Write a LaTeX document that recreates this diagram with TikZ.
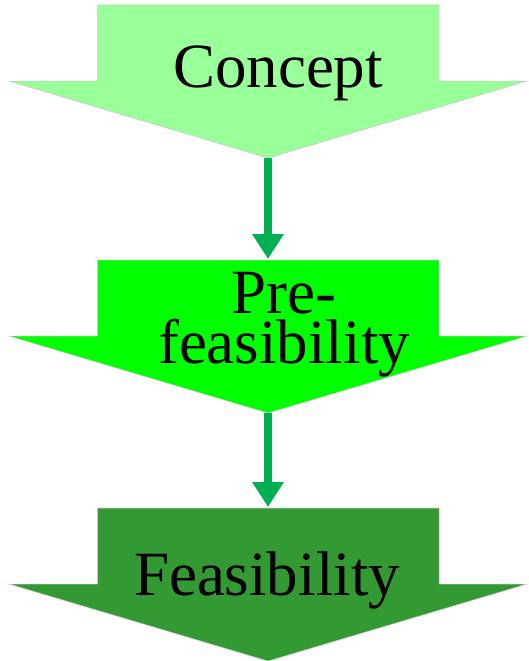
\documentclass[tikz,border=0pt]{standalone}
\usepackage{fontspec}
\setmainfont{Liberation Serif}
\usetikzlibrary{arrows.meta}

\definecolor{conceptgreen}{HTML}{99FF99}
\definecolor{prefeasgreen}{HTML}{00FF00}
\definecolor{feasgreen}{HTML}{339933}
\definecolor{linkgreen}{HTML}{00B050}

\tikzset{
	stagebox/.style={draw=gray!45, line width=0.5pt},
	stagetext/.style={font=\fontsize{63}{50}\selectfont, anchor=base, align=center, inner sep=0pt},
	link/.style={draw=linkgreen, line width=8pt, -{Triangle[width=30pt,length=25pt]}}
}

\begin{document}
\begin{tikzpicture}[x=1pt,y=-1pt]
	\useasboundingbox (0,0) rectangle (528,661);
	% stages
	\filldraw[stagebox, fill=conceptgreen] (97.5,5) -- (439,5) -- (439,81) -- (527,81) -- (268,158) -- (9,81) -- (97.5,81) -- cycle;
	\filldraw[stagebox, fill=prefeasgreen] (97.5,260) -- (439,260) -- (439,336) -- (527,336) -- (268,413) -- (9,336) -- (97.5,336) -- cycle;
	\filldraw[stagebox, fill=feasgreen] (97.5,508) -- (439,508) -- (439,584) -- (527,584) -- (268,661) -- (9,584) -- (97.5,584) -- cycle;
	\coordinate (concept tip) at (268,158);
	\coordinate (prefeas top) at (268,259);
	\coordinate (prefeas tip) at (268,413);
	\coordinate (feas top) at (268,507);
	% texts
	\node[stagetext] (concept) at (278,87) {Concept};
	\node[stagetext] (prefeas) at (284,363) {Pre-\\feasibility};
	\node[stagetext] (feas) at (267,595) {Feasibility};
	% links
	\draw[link] (concept tip) -- (prefeas top);
	\draw[link] (prefeas tip) -- (feas top);
\end{tikzpicture}
\end{document}
